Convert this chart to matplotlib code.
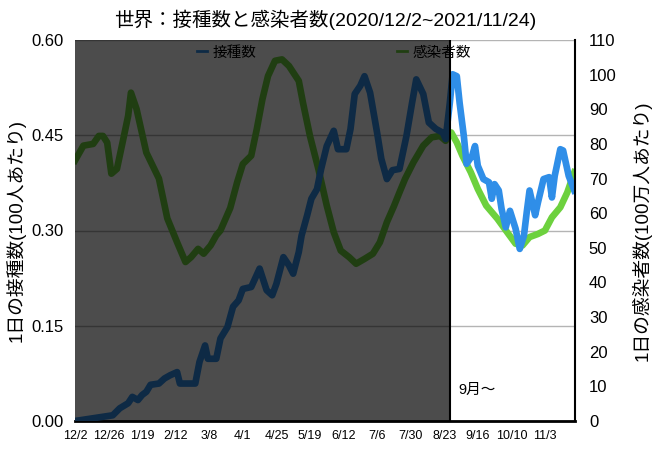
import matplotlib
matplotlib.use("Agg")
import matplotlib.pyplot as plt

plt.rcParams['font.family'] = ['Liberation Sans', 'Noto Sans CJK JP', 'DejaVu Sans']

# days counted from 2020/12/2
vacc_days = [0, 27, 32, 38, 41, 45, 48, 51, 54, 60, 64, 68, 73, 75, 86, 89, 93, 95,
             101, 104, 109, 113, 117, 120, 126, 132, 137, 141, 144, 149, 153, 156,
             160, 162, 166, 169, 173, 176, 180, 185, 188, 194, 197, 200, 204, 207,
             211, 216, 219, 223, 227, 232, 237, 241, 244, 249, 253, 258, 263, 265,
             268, 270, 273, 275, 278, 280, 284, 286, 288, 292, 296, 298, 300, 303,
             305, 308, 311, 315, 318, 321, 323, 325, 329, 331, 335, 339, 341, 343,
             347, 349, 353, 357]
vacc_vals = [0.0, 0.009, 0.02, 0.028, 0.038, 0.033, 0.041, 0.046, 0.057, 0.059,
             0.067, 0.072, 0.077, 0.059, 0.059, 0.093, 0.119, 0.098, 0.098, 0.130,
             0.148, 0.180, 0.190, 0.208, 0.211, 0.240, 0.206, 0.198, 0.216, 0.258,
             0.245, 0.232, 0.266, 0.292, 0.324, 0.350, 0.365, 0.397, 0.433, 0.457,
             0.428, 0.428, 0.460, 0.515, 0.528, 0.543, 0.517, 0.454, 0.413, 0.381,
             0.395, 0.397, 0.449, 0.501, 0.538, 0.515, 0.470, 0.460, 0.454, 0.444,
             0.501, 0.546, 0.543, 0.501, 0.449, 0.405, 0.418, 0.433, 0.402, 0.381,
             0.376, 0.350, 0.373, 0.363, 0.334, 0.305, 0.331, 0.303, 0.271, 0.292,
             0.329, 0.363, 0.324, 0.344, 0.381, 0.384, 0.352, 0.386, 0.428, 0.426,
             0.386, 0.363]

inf_days = [0, 6, 13, 17, 20, 23, 26, 30, 35, 38, 40, 44, 51, 60, 66, 73, 79, 83,
            88, 92, 97, 101, 104, 111, 116, 120, 126, 130, 134, 138, 143, 148, 153,
            160, 163, 168, 174, 180, 185, 190, 196, 201, 207, 213, 218, 223, 228,
            232, 236, 242, 249, 255, 261, 265, 269, 273, 277, 283, 288, 294, 302,
            309, 315, 320, 325, 331, 336, 341, 347, 352, 357]
inf_vals = [75.2, 79.5, 80.0, 82.3, 82.3, 80.4, 71.4, 72.8, 82.3, 88.1, 94.8, 90.1,
            77.5, 70.0, 58.5, 51.6, 45.9, 47.3, 49.7, 48.3, 50.7, 53.6, 55.0, 61.5,
            69.0, 74.2, 76.6, 84.3, 92.9, 99.6, 104.0, 104.4, 102.5, 98.2, 91.9,
            82.3, 72.8, 62.2, 54.5, 49.2, 47.3, 45.4, 46.8, 48.3, 51.6, 57.4, 62.0,
            66.0, 69.9, 74.7, 79.5, 81.9, 82.3, 80.9, 83.3, 80.4, 76.6, 71.8, 67.0,
            62.2, 58.4, 54.5, 51.2, 50.7, 53.1, 54.0, 55.0, 58.8, 61.7, 66.0, 71.8]

tick_days = [0, 24, 48, 72, 96, 120, 144, 168, 192, 216, 240, 264, 288, 312, 336]
tick_labels = ["12/2", "12/26", "1/19", "2/12", "3/8", "4/1", "4/25", "5/19",
               "6/12", "7/6", "7/30", "8/23", "9/16", "10/10", "11/3"]
left_ticks = [0.0, 0.15, 0.30, 0.45, 0.60]
right_ticks = list(range(0, 111, 10))
shade_end = 268.2

blue = "#2f8ee8"
green = "#6dd13e"

fig = plt.figure(figsize=(6.56, 4.54), dpi=100)
ax = fig.add_axes([75 / 656, 1 - 421 / 454, 500 / 656, 381 / 454])
ax2 = ax.twinx()
ax2.patch.set_visible(False)

ax.set_xlim(0, 357.5)
ax.set_ylim(0, 0.6)
ax2.set_ylim(0, 110)

ax.plot(inf_days, inf_vals, color=green, lw=4.8, transform=ax2.transData,
        solid_joinstyle="round", zorder=3, label="感染者数")
ax.plot(vacc_days, vacc_vals, color=blue, lw=4.8, solid_joinstyle="round",
        zorder=4, label="接種数")

ax.set_yticks(left_ticks)
ax.set_yticklabels([f"{v:.2f}" for v in left_ticks])
ax2.set_yticks(right_ticks)
ax.set_xticks(tick_days)
ax.set_xticklabels(tick_labels)
ax.grid(axis="y", color="#b4b4b4", lw=1)
ax.tick_params(axis="y", length=0, pad=8.5, labelsize=12)
ax.tick_params(axis="x", length=0, pad=6.5, labelsize=9)
ax2.tick_params(axis="y", length=0, pad=10, labelsize=12)

for a in (ax, ax2):
    a.spines["left"].set_visible(False)
    a.spines["top"].set_visible(False)
    a.spines["right"].set_visible(False)
ax.spines["bottom"].set_linewidth(2)
ax.spines["bottom"].set_color("black")
ax2.spines["bottom"].set_visible(False)
ax2.spines["right"].set_visible(True)
ax2.spines["right"].set_color("black")
ax2.spines["right"].set_linewidth(1.5)

ax.set_ylabel("1日の接種数(100人あたり)", fontsize=13.5, labelpad=4)
ax2.set_ylabel("1日の感染者数(100万人あたり)", fontsize=13.5, labelpad=11)
ax.set_title("世界：接種数と感染者数(2020/12/2~2021/11/24)", fontsize=14, pad=10)

h, l = ax.get_legend_handles_labels()
leg = ax.legend(h[::-1], l[::-1], ncol=2, loc="upper center",
                bbox_to_anchor=(0.518, 1.02), frameon=False, fontsize=10.5,
                handlelength=0.7, handletextpad=0.4, columnspacing=9.6)
for line in leg.get_lines():
    line.set_linewidth(2)
leg.set_zorder(5)

ax.axvspan(0, shade_end, color="black", alpha=0.7, lw=0, zorder=10)
ax.axvline(shade_end, color="black", lw=1.5, zorder=11)
ax.text(274, 0.042, "9月～", fontsize=10.5, zorder=12)

fig.savefig("out.png", dpi=100)
